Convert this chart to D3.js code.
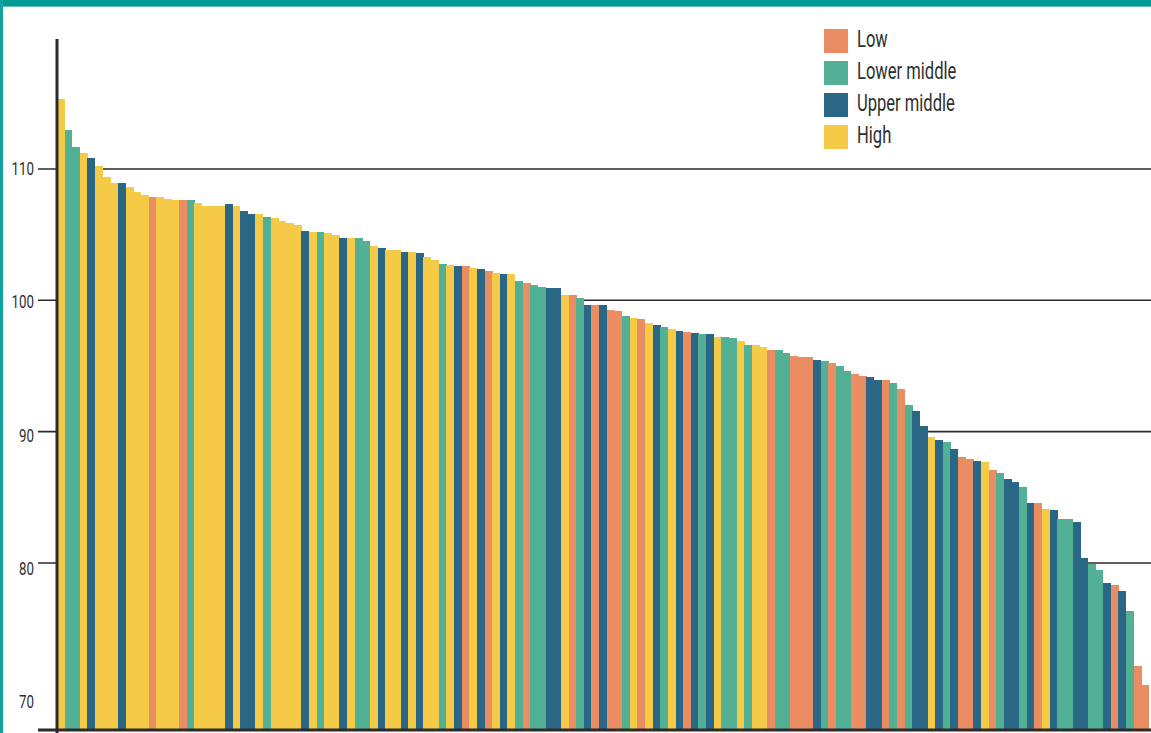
<!DOCTYPE html>
<html>
<head>
<meta charset="utf-8">
<script src="https://cdn.jsdelivr.net/npm/d3@7"></script>
<style>
  html, body { margin: 0; padding: 0; background: #fff; }
  svg { display: block; }
  .lbl { font-family: Roboto, "DejaVu Sans", sans-serif; fill: #2e2e2e; }
</style>
</head>
<body>
<svg id="chart" width="1151" height="733"></svg>
<script>
// ---- data ----
const values = [
  115.3, 113.0, 111.7, 111.2, 110.8, 110.2, 109.4, 108.9, 108.9, 108.6,
  108.25, 108.0, 107.9, 107.9, 107.7, 107.6, 107.6, 107.6, 107.4, 107.2,
  107.2, 107.2, 107.3, 107.2, 106.8, 106.6, 106.6, 106.35, 106.3, 106.05,
  105.9, 105.7, 105.3, 105.2, 105.2, 105.1, 105.0, 104.75, 104.75, 104.75,
  104.5, 104.1, 104.0, 103.8, 103.8, 103.7, 103.7, 103.6, 103.3, 103.1,
  102.8, 102.7, 102.6, 102.6, 102.45, 102.4, 102.2, 102.1, 102.0, 102.0,
  101.5, 101.3, 101.2, 101.0, 100.9, 100.9, 100.4, 100.4, 100.2, 99.65,
  99.65, 99.65, 99.3, 99.15, 98.8, 98.65, 98.6, 98.3, 98.1, 98.0,
  97.8, 97.7, 97.6, 97.5, 97.4, 97.4, 97.2, 97.2, 97.1, 96.9,
  96.6, 96.6, 96.45, 96.2, 96.2, 96.0, 95.75, 95.7, 95.7, 95.45,
  95.4, 95.2, 95.0, 94.6, 94.4, 94.2, 94.15, 93.9, 93.9, 93.7,
  93.25, 92.0, 91.6, 90.4, 89.6, 89.4, 89.2, 88.7, 88.1, 87.9,
  87.8, 87.7, 87.1, 86.85, 86.4, 86.2, 85.8, 84.6, 84.6, 84.1,
  84.0, 83.35, 83.35, 83.1, 80.4, 79.9, 79.5, 78.5, 78.3, 77.9,
  76.35, 72.15, 70.7
];
// L = Low, LM = Lower middle, UM = Upper middle, H = High
const groups = [
  "H","LM","LM","H","UM","H","H","H","UM","H",
  "H","H","L","H","H","H","L","LM","H","H",
  "H","H","UM","H","UM","UM","H","LM","H","H",
  "H","H","UM","H","LM","H","H","UM","H","LM",
  "LM","H","UM","H","H","UM","H","UM","H","H",
  "LM","H","UM","L","H","UM","L","H","UM","H",
  "LM","L","LM","LM","UM","UM","H","L","LM","UM",
  "L","UM","L","L","LM","H","L","H","UM","LM",
  "H","UM","L","UM","LM","UM","H","LM","LM","H",
  "LM","H","H","L","LM","LM","L","L","L","UM",
  "LM","L","LM","LM","L","L","UM","UM","L","LM",
  "L","LM","UM","UM","H","UM","LM","UM","L","L",
  "UM","H","L","LM","UM","UM","LM","UM","L","H",
  "UM","LM","LM","UM","UM","LM","LM","UM","L","UM",
  "LM","L","L"
];
const groupKeys = ["L", "LM", "UM", "H"];
const groupNames = ["Low", "Lower middle", "Upper middle", "High"];
const groupColors = ["#EA8D63", "#52B094", "#2A6686", "#F4CA47"];
const yTicks = [110, 100, 90, 80, 70];

// ---- layout ----
const svg = d3.select("#chart");
const W = 1151, H = 733;
const plot = { left: 56.9, right: 1149, top: 40, bottom: 729 };

const color = d3.scaleOrdinal().domain(groupKeys).range(groupColors);
const x = d3.scaleBand().domain(d3.range(values.length)).range([plot.left, plot.right]).paddingInner(0).paddingOuter(0);
const y = d3.scaleLinear().domain([67.36, 119.82]).range([plot.bottom, plot.top]);
// tick labels in the original sit on a slightly wider spacing than the gridlines
const yLab = d3.scaleLinear().domain([110, 70]).range([y(110) - 0.5, y(70) + 7.5]);

// frame
svg.append("rect").attr("x", 0).attr("y", 0).attr("width", W).attr("height", 6).attr("fill", "#009B94");
svg.append("rect").attr("x", 0).attr("y", 6).attr("width", W).attr("height", 1).attr("fill", "#5FC0BA");
svg.append("rect").attr("x", 0).attr("y", 0).attr("width", 3).attr("height", H).attr("fill", "#12A39C");

// gridlines (behind bars)
const grid = svg.append("g");
grid.selectAll("line").data(yTicks.filter(t => t !== 70)).join("line")
  .attr("x1", 38).attr("x2", W)
  .attr("y1", d => y(d)).attr("y2", d => y(d))
  .attr("stroke", "#2a2a2a").attr("stroke-width", 1.6);

// bars
svg.append("g").selectAll("rect").data(values).join("rect")
  .attr("x", (d, i) => x(i))
  .attr("width", x.bandwidth() + 0.3)
  .attr("y", d => y(d))
  .attr("height", d => y.range()[0] - y(d))
  .attr("fill", (d, i) => color(groups[i]))
  .attr("shape-rendering", "crispEdges");

// axes
svg.append("line").attr("x1", 57).attr("x2", 57).attr("y1", plot.top - 1).attr("y2", H)
  .attr("stroke", "#2b2b2b").attr("stroke-width", 3);
svg.append("line").attr("x1", 38).attr("x2", W).attr("y1", y.range()[0] + 1).attr("y2", y.range()[0] + 1)
  .attr("stroke", "#2b2b2b").attr("stroke-width", 3);

// y tick labels (condensed look)
svg.append("g").selectAll("text").data(yTicks).join("text")
  .attr("class", "lbl")
  .attr("transform", d => `translate(34,${yLab(d)}) scale(0.74,1)`)
  .attr("dy", "0.355em")
  .attr("text-anchor", "end")
  .attr("font-size", 18)
  .text(d => d);

// legend
const leg = svg.append("g").attr("transform", "translate(824,29)");
const items = leg.selectAll("g").data(groupNames).join("g")
  .attr("transform", (d, i) => `translate(0,${i * 32})`);
items.append("rect").attr("width", 24).attr("height", 24).attr("fill", (d, i) => groupColors[i]);
items.append("text").attr("class", "lbl")
  .attr("transform", "translate(33,18) scale(0.72,1)")
  .attr("font-size", 23)
  .text(d => d);
</script>
</body>
</html>
